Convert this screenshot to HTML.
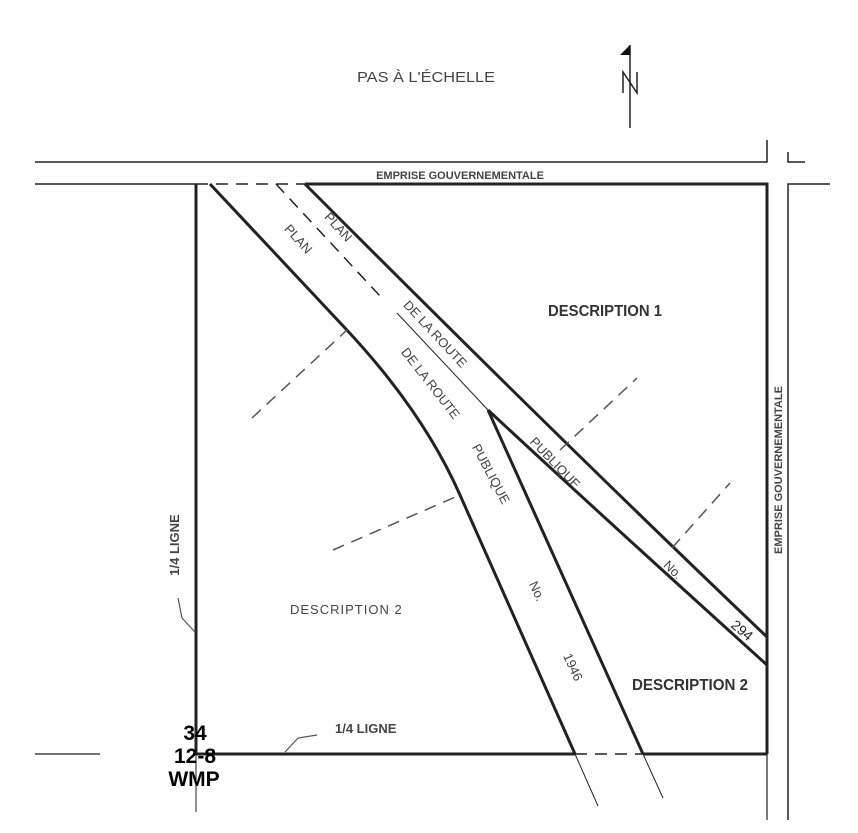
<!DOCTYPE html>
<html><head><meta charset="utf-8"><style>
html,body{margin:0;padding:0;background:#fff;}
svg{display:block;}
text{font-family:"Liberation Sans",sans-serif;}
</style></head><body>
<svg width="858" height="833" viewBox="0 0 858 833" xmlns="http://www.w3.org/2000/svg">
<g fill="none" stroke="#222">
  <polyline points="35,162 767,162 767,140" stroke-width="1.5"/>
  <polyline points="788,152 788,162 805,162" stroke-width="1.5"/>
  <line x1="35" y1="184" x2="196" y2="184" stroke-width="1.5"/>
  <line x1="196" y1="184" x2="305" y2="184" stroke-width="1.5" stroke-dasharray="12,8"/>
  <polyline points="305,184 767,184 767,754" stroke-width="3"/>
  <polyline points="830,184 788,184 788,820" stroke-width="1.5"/>
  <line x1="767" y1="754" x2="767" y2="820" stroke-width="1.2"/>
  <line x1="196" y1="184" x2="196" y2="754" stroke-width="3"/>
  <line x1="196" y1="754" x2="196" y2="812" stroke-width="1"/>
  <line x1="35" y1="754" x2="100" y2="754" stroke-width="1.2"/>
  <line x1="196" y1="754" x2="575" y2="754" stroke-width="3"/>
  <line x1="575" y1="754" x2="643" y2="754" stroke-width="1.5" stroke-dasharray="12,8"/>
  <line x1="643" y1="754" x2="767" y2="754" stroke-width="3"/>
  <path d="M210,184 L345,328 Q423,411 460,495 L575,754" stroke-width="3"/>
  <line x1="575" y1="754" x2="598" y2="806" stroke-width="1"/>
  <line x1="488" y1="410" x2="643" y2="754" stroke-width="3"/>
  <line x1="643" y1="754" x2="663" y2="798" stroke-width="1"/>
  <path d="M488,410 Q590,505 767,665" stroke-width="3"/>
  <path d="M305,184 Q560,440 767,637" stroke-width="3"/>
  <line x1="276" y1="184" x2="380" y2="296" stroke-width="1.5" stroke-dasharray="12,8"/>
  <line x1="397" y1="313" x2="488" y2="410" stroke-width="1"/>
  <g stroke="#555" stroke-width="1.5" stroke-dasharray="12,8">
    <line x1="252" y1="418" x2="347" y2="330"/>
    <line x1="333" y1="550" x2="460" y2="495"/>
    <line x1="560" y1="450" x2="637" y2="378"/>
    <line x1="672" y1="548" x2="730" y2="483"/>
  </g>
  <polyline points="178,598 182,618 195,632" stroke="#555" stroke-width="1.2"/>
  <polyline points="285,752 298,738 317,735" stroke="#555" stroke-width="1.2"/>
  <line x1="630" y1="45" x2="630" y2="128" stroke-width="1.5"/>
  <polyline points="623,93 623,72 637,93 637,72" stroke-width="1.5"/>
</g>
<polygon points="620,55 630,45 630,55" fill="#111"/>
<g fill="#444" font-size="13">
  <text x="357" y="82" font-size="15" textLength="138" lengthAdjust="spacingAndGlyphs">PAS À L'ÉCHELLE</text>
  <text x="460" y="179" font-size="11" font-weight="bold" text-anchor="middle">EMPRISE GOUVERNEMENTALE</text>
  <text transform="translate(782,470) rotate(-90)" font-size="11" font-weight="bold" text-anchor="middle">EMPRISE GOUVERNEMENTALE</text>
  <text transform="translate(179,545) rotate(-90)" font-weight="bold" text-anchor="middle">1/4 LIGNE</text>
  <text x="335" y="733" font-weight="bold">1/4 LIGNE</text>
  <text x="290" y="614" letter-spacing="1">DESCRIPTION 2</text>
  <text transform="translate(295,242) rotate(48)" text-anchor="middle">PLAN</text>
  <text transform="translate(335,230) rotate(48)" text-anchor="middle">PLAN</text>
  <text transform="translate(432,337) rotate(47)" text-anchor="middle">DE LA ROUTE</text>
  <text transform="translate(427,386) rotate(52)" text-anchor="middle">DE LA ROUTE</text>
  <text transform="translate(487,476) rotate(62)" text-anchor="middle">PUBLIQUE</text>
  <text transform="translate(552,466) rotate(46)" text-anchor="middle">PUBLIQUE</text>
  <text transform="translate(533,593) rotate(65)" text-anchor="middle">No.</text>
  <text transform="translate(569,669) rotate(65)" text-anchor="middle">1946</text>
  <text transform="translate(670,573) rotate(44)" text-anchor="middle">No.</text>
  <text transform="translate(739,634) rotate(40)" text-anchor="middle" font-size="14" fill="#222">294</text>
</g>
<g fill="#333" font-weight="bold" font-size="16">
  <text x="548" y="316" textLength="114" lengthAdjust="spacingAndGlyphs">DESCRIPTION 1</text>
  <text x="632" y="690" textLength="116" lengthAdjust="spacingAndGlyphs">DESCRIPTION 2</text>
</g>
<g fill="#000" font-weight="bold" font-size="21" text-anchor="middle">
  <text x="195" y="740">34</text>
  <text x="195" y="763">12-8</text>
  <text x="194" y="786">WMP</text>
</g>
</svg>
</body></html>
